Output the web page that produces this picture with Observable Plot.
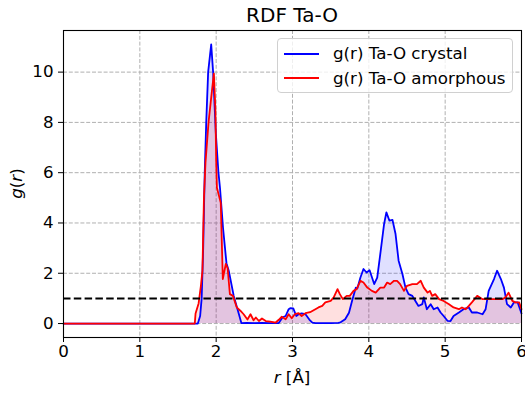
<!DOCTYPE html>
<html><head><meta charset="utf-8">
<script src="https://cdn.jsdelivr.net/npm/d3@7"></script>
<script src="https://cdn.jsdelivr.net/npm/@observablehq/plot@0.6"></script>
<style>
body{margin:0;background:#fff;font-family:"DejaVu Sans",sans-serif;}
#wrap{position:relative;width:525px;height:394px;overflow:hidden;}
#title{height:29px;position:relative;}
#title span{position:absolute;left:63px;width:458px;top:3px;text-align:center;font-size:20px;line-height:24px;color:#000;}
#legend{position:absolute;left:277px;top:38px;width:236px;height:55px;box-sizing:border-box;border:1px solid #d0d0d0;border-radius:4px;background:rgba(255,255,255,0.8);}
.lg-line{position:absolute;left:6px;width:35px;height:2px;}
.lg-text{position:absolute;left:55px;font-size:16.7px;line-height:20px;color:#000;white-space:nowrap;}
</style></head>
<body>
<div id="wrap">
  <div id="title"><span>RDF Ta-O</span></div>
  <div id="chart"></div>
  <div id="legend"></div>
</div>
<script>
// Data
const crystalR = [0, 1.76, 1.79, 1.81, 1.83, 1.85, 1.87, 1.895, 1.935, 1.96, 1.995, 2.03, 2.05, 2.09, 2.135, 2.165, 2.23, 2.30, 2.33, 2.4, 2.5, 2.6, 2.7, 2.82, 2.87, 2.91, 2.95, 2.97, 3.01, 3.05, 3.08, 3.12, 3.17, 3.22, 3.26, 3.3, 3.4, 3.5, 3.6, 3.63, 3.69, 3.74, 3.78, 3.83, 3.85, 3.89, 3.93, 3.97, 4.01, 4.07, 4.11, 4.15, 4.2, 4.23, 4.27, 4.31, 4.35, 4.39, 4.44, 4.48, 4.52, 4.57, 4.61, 4.65, 4.7, 4.72, 4.76, 4.81, 4.85, 4.9, 4.94, 4.98, 5.03, 5.07, 5.11, 5.18, 5.24, 5.31, 5.35, 5.42, 5.49, 5.53, 5.57, 5.64, 5.68, 5.73, 5.77, 5.81, 5.86, 5.9, 5.95, 6.0];
const crystalG = [0, 0, 0.3, 1.0, 3.0, 6.0, 8.0, 10.0, 11.1, 10.0, 7.6, 6.0, 5.4, 3.8, 2.4, 2.1, 1.1, 0.35, 0.02, 0.03, 0.02, 0.03, 0.02, 0.02, 0.25, 0.3, 0.57, 0.61, 0.6, 0.3, 0.37, 0.4, 0.37, 0.16, 0.04, 0.02, 0.02, 0.02, 0.03, 0.05, 0.17, 0.43, 0.9, 1.43, 1.4, 1.83, 2.17, 2.03, 2.12, 1.57, 1.83, 2.76, 3.96, 4.42, 4.09, 4.12, 3.56, 2.5, 1.97, 1.43, 1.17, 1.1, 0.9, 0.7, 0.77, 1.04, 0.57, 0.77, 0.57, 0.64, 0.44, 0.3, 0.11, 0.1, 0.3, 0.44, 0.57, 0.64, 0.44, 0.44, 0.37, 0.57, 1.3, 1.77, 2.1, 1.77, 1.43, 0.77, 0.64, 0.84, 0.84, 0.4];
const amorphR = [0, 1.72, 1.73, 1.77, 1.80, 1.82, 1.84, 1.86, 1.90, 1.95, 1.97, 1.99, 2.00, 2.01, 2.06, 2.087, 2.126, 2.15, 2.18, 2.22, 2.27, 2.32, 2.36, 2.41, 2.45, 2.49, 2.52, 2.56, 2.6, 2.65, 2.71, 2.78, 2.82, 2.86, 2.91, 2.95, 2.99, 3.03, 3.08, 3.12, 3.17, 3.23, 3.3, 3.34, 3.39, 3.43, 3.5, 3.54, 3.59, 3.62, 3.66, 3.71, 3.75, 3.8, 3.84, 3.89, 3.93, 3.98, 4.04, 4.09, 4.15, 4.2, 4.24, 4.28, 4.33, 4.37, 4.41, 4.46, 4.5, 4.57, 4.63, 4.68, 4.72, 4.77, 4.8, 4.83, 4.87, 4.92, 4.98, 5.05, 5.11, 5.18, 5.22, 5.27, 5.31, 5.35, 5.42, 5.49, 5.55, 5.62, 5.68, 5.75, 5.79, 5.83, 5.88, 5.92, 5.97, 6.0];
const amorphG = [0, 0, 0.4, 0.8, 1.5, 2.1, 5.0, 6.4, 8.0, 9.4, 9.94, 8.5, 6.5, 5.4, 4.8, 1.77, 2.37, 2.2, 1.17, 1.1, 0.64, 0.5, 0.37, 0.16, 0.37, 0.13, 0.24, 0.1, 0.2, 0.1, 0.08, 0.04, 0.15, 0.27, 0.17, 0.37, 0.21, 0.37, 0.41, 0.3, 0.41, 0.45, 0.57, 0.64, 0.7, 0.84, 0.9, 1.04, 1.37, 1.17, 0.97, 1.1, 1.1, 1.3, 1.37, 1.7, 1.63, 1.43, 1.3, 1.23, 1.43, 1.43, 1.63, 1.57, 1.7, 1.7, 1.57, 1.3, 1.5, 1.57, 1.57, 1.7, 1.43, 1.23, 1.3, 1.1, 1.17, 0.97, 0.9, 0.77, 0.64, 0.57, 0.64, 0.57, 0.7, 0.84, 1.1, 0.97, 0.97, 0.97, 0.97, 0.97, 1.04, 1.23, 0.9, 0.84, 0.84, 0.57];
const referenceLevel = [1];
const xTicks = [0, 1, 2, 3, 4, 5, 6];
const yTicks = [0, 2, 4, 6, 8, 10];
const seriesNames = ["g(r) Ta-O crystal", "g(r) Ta-O amorphous"];
const seriesColors = ["blue", "red"];

const toRows = (rs, gs) => rs.slice(0, Math.min(rs.length, gs.length)).map((r, i) => ({r, g: gs[i]}));
const crystal = toRows(crystalR, crystalG);
const amorph = toRows(amorphR, amorphG);

const gridStyle = {stroke: "#b0b0b0", strokeOpacity: 1, strokeWidth: 1, strokeDasharray: "4,1.8"};
const fmt = d => String(d);

const chart = Plot.plot({
  width: 525,
  height: 365,
  marginLeft: 63,
  marginRight: 4,
  marginTop: 1,
  marginBottom: 57,
  style: {fontFamily: "DejaVu Sans, sans-serif", fontSize: "16.7px", color: "#000", background: "#fff", overflow: "visible"},
  x: {domain: [0, 6], ticks: xTicks, label: null, tickSize: 5, tickPadding: 3, tickFormat: fmt},
  y: {domain: [-0.555, 11.655], ticks: yTicks, label: null, tickSize: 5, tickPadding: 5, tickFormat: fmt},
  marks: [
    Plot.gridX(xTicks, gridStyle),
    Plot.gridY(yTicks, gridStyle),
    Plot.areaY(crystal, {x: "r", y: "g", fill: seriesColors[0], fillOpacity: 0.12}),
    Plot.areaY(amorph, {x: "r", y: "g", fill: seriesColors[1], fillOpacity: 0.12}),
    Plot.line(crystal, {x: "r", y: "g", stroke: seriesColors[0], strokeWidth: 1.8}),
    Plot.line(amorph, {x: "r", y: "g", stroke: seriesColors[1], strokeWidth: 1.8}),
    Plot.ruleY(referenceLevel, {stroke: "black", strokeWidth: 2, strokeDasharray: "7.5,3.3"}),
    Plot.frame({stroke: "black", strokeWidth: 1.1}),
    Plot.axisX({ticks: xTicks, tickSize: 5, tickPadding: 3, label: null, tickFormat: fmt}),
    Plot.axisY({ticks: yTicks, tickSize: 5, tickPadding: 5, label: null, tickFormat: fmt})
  ]
});
document.getElementById("chart").appendChild(chart);

// axis labels
const svg = d3.select(chart);
const xl = svg.append("text").attr("x", 292).attr("y", 354).attr("text-anchor", "middle")
  .attr("font-size", "16.7px").attr("fill", "black");
xl.append("tspan").attr("font-style", "italic").text("r");
xl.append("tspan").text(" [Å]");
const yl = svg.append("text").attr("transform", "translate(22,154.5) rotate(-90)").attr("text-anchor", "middle")
  .attr("font-size", "16.7px").attr("fill", "black");
yl.append("tspan").attr("font-style", "italic").text("g");
yl.append("tspan").text("(");
yl.append("tspan").attr("font-style", "italic").text("r");
yl.append("tspan").text(")");

// legend
const lg = document.getElementById("legend");
seriesNames.forEach((name, i) => {
  const line = document.createElement("div");
  line.className = "lg-line";
  line.style.top = (13.5 + i * 24.6) + "px";
  line.style.background = seriesColors[i];
  lg.appendChild(line);
  const t = document.createElement("div");
  t.className = "lg-text";
  t.style.top = (4 + i * 24.6) + "px";
  t.textContent = name;
  lg.appendChild(t);
});
</script>
</body></html>
